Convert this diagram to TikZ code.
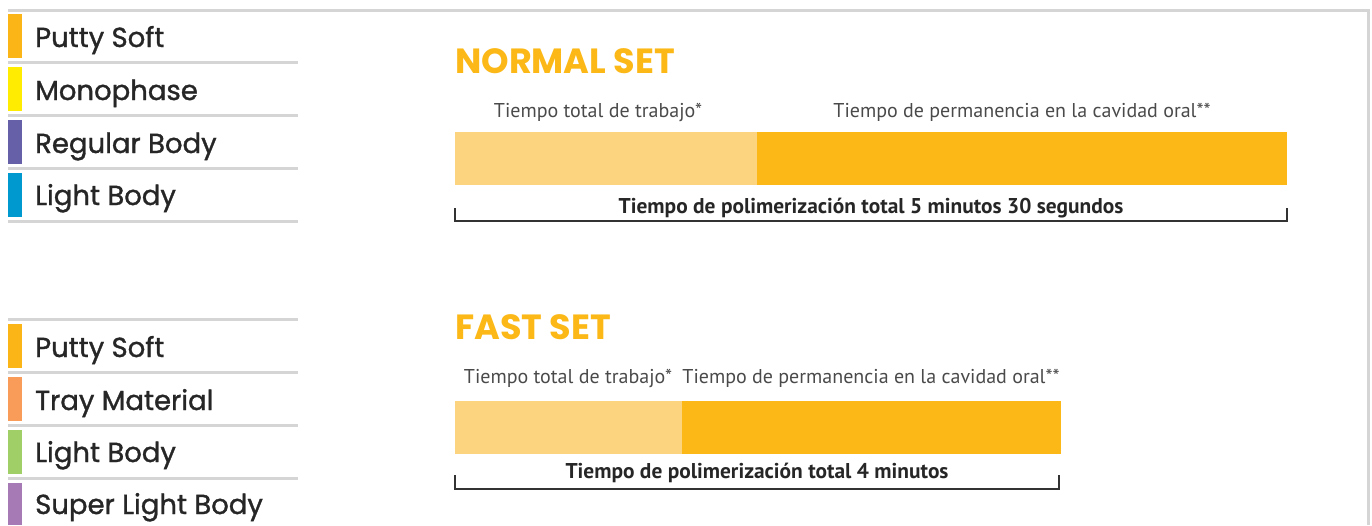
\documentclass[tikz,border=0pt]{standalone}
\usepackage{fontspec}
\setmainfont{PT Sans}
\newfontfamily\legendfont{Poppins}[FakeBold=1.2]
\newfontfamily\titlefont{Poppins}
\definecolor{setorange}{HTML}{FBB817}
\definecolor{setlight}{HTML}{FCD37F}
\definecolor{rulegray}{HTML}{D5D5D5}
\definecolor{textgray}{HTML}{4A4A4A}
\definecolor{puttyc}{HTML}{FBB517}
\definecolor{monoc}{HTML}{FFEC00}
\definecolor{regularc}{HTML}{6560A8}
\definecolor{lightbluec}{HTML}{0099CF}
\definecolor{trayc}{HTML}{F99C5A}
\definecolor{lightgreenc}{HTML}{A0CF67}
\definecolor{superc}{HTML}{A67BB5}
\begin{document}
\begin{tikzpicture}[x=1pt,y=-1pt]

    \tikzset{
      sepline/.style={rulegray, line width=3pt},
      swatch/.style={inner sep=0pt, minimum width=14pt, minimum height=44pt, anchor=north west},
      legend/.style={anchor=base west, inner sep=0pt, text=black!85, font=\legendfont\fontsize{27.5}{30}\selectfont},
      settitle/.style={anchor=base west, inner sep=0pt, text=setorange, font=\titlefont\bfseries\fontsize{35}{40}\selectfont},
      phase/.style={anchor=base, inner sep=0pt, text=textgray, font=\fontsize{20}{24}\selectfont},
      total/.style={anchor=base, inner sep=0pt, text=black!85, font=\bfseries\fontsize{21.4}{25}\selectfont},
      bar/.style={inner sep=0pt, minimum height=53pt, anchor=north west},
      bracket/.style={black!80, line width=1.4pt},
    }
    \useasboundingbox (0,0) rectangle (1372,525);

	% frame
	\draw[sepline] (8,10)--(1368,10)--(1368,525);

	% legend normal set
	\draw[sepline] (8,62)--(298,62);
	\draw[sepline] (8,115)--(298,115);
	\draw[sepline] (8,168)--(298,168);
	\draw[sepline] (8,221)--(298,221);
	\node[swatch, fill=puttyc] (s1) at (8,14) {};
	\node[swatch, fill=monoc] (s2) at (8,67) {};
	\node[swatch, fill=regularc] (s3) at (8,120) {};
	\node[swatch, fill=lightbluec] (s4) at (8,173) {};
	\node[legend] (l1) at (35,47) {Putty Soft};
	\node[legend] (l2) at (35,100) {Monophase};
	\node[legend] (l3) at (35,153) {Regular Body};
	\node[legend] (l4) at (35,205) {Light Body};

	% legend fast set
	\draw[sepline] (8,319)--(298,319);
	\draw[sepline] (8,372)--(298,372);
	\draw[sepline] (8,425)--(298,425);
	\draw[sepline] (8,478)--(298,478);
	\node[swatch, fill=puttyc] (f1) at (8,324) {};
	\node[swatch, fill=trayc] (f2) at (8,377) {};
	\node[swatch, fill=lightgreenc] (f3) at (8,430) {};
	\node[swatch, fill=superc, minimum height=42pt] (f4) at (8,483) {};
	\node[legend] (m1) at (35,357) {Putty Soft};
	\node[legend] (m2) at (35,410) {Tray Material};
	\node[legend] (m3) at (35,462) {Light Body};
	\node[legend] (m4) at (35,514) {Super Light Body};

	% normal set
	\node[settitle] (normal) at (455,73) {NORMAL SET};
	\node[phase] (nwork) at (598,117) {Tiempo total de trabajo*};
	\node[phase] (noral) at (1022,117) {Tiempo de permanencia en la cavidad oral**};
	\node[bar, fill=setlight, minimum width=302pt] (nlight) at (455,132) {};
	\node[bar, fill=setorange, minimum width=530pt] (ndark) at (757,132) {};
	\draw[bracket] (455,208)--(455,221)--(1287,221)--(1287,208);
	\node[total] (ntotal) at (871,213) {Tiempo de polimerización total 5 minutos 30 segundos};

	% fast set
	\node[settitle] (fast) at (455,339) {FAST SET};
	\node[phase] (fwork) at (568,383) {Tiempo total de trabajo*};
	\node[phase] (foral) at (871,383) {Tiempo de permanencia en la cavidad oral**};
	\node[bar, fill=setlight, minimum width=227pt] (flight) at (455,401) {};
	\node[bar, fill=setorange, minimum width=379pt] (fdark) at (682,401) {};
	\draw[bracket] (455,475)--(455,489)--(1059,489)--(1059,475);
	\node[total] (ftotal) at (757,478) {Tiempo de polimerización total 4 minutos};

\end{tikzpicture}
\end{document}
